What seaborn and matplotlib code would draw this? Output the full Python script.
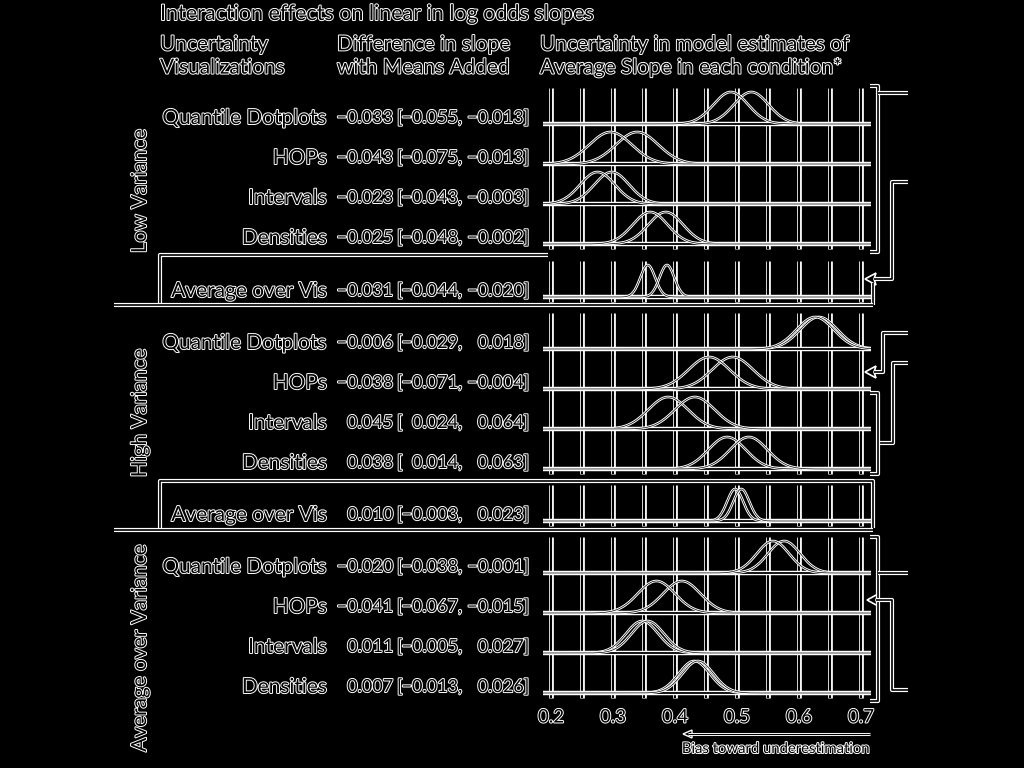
import numpy as np
import pandas as pd
import matplotlib
matplotlib.use("Agg")
import matplotlib.pyplot as plt
import matplotlib.patheffects as pe
from matplotlib.lines import Line2D
from matplotlib.patches import Polygon
from matplotlib.transforms import blended_transform_factory
import seaborn as sns

# row labels
row_labels = ["Quantile Dotplots", "HOPs", "Intervals", "Densities", "Average over Vis"]
block_names = ["Low Variance", "High Variance", "Average over Variance"]

# posterior mean / sd of average slope
low_no_means = [0.523, 0.339, 0.298, 0.385, 0.387]
low_with_means = [0.490, 0.296, 0.275, 0.360, 0.356]
low_sd = [0.028, 0.034, 0.028, 0.028, 0.012]
high_no_means = [0.632, 0.493, 0.389, 0.484, 0.497]
high_with_means = [0.626, 0.455, 0.432, 0.519, 0.507]
high_sd = [0.030, 0.033, 0.032, 0.030, 0.013]
avg_no_means = [0.576, 0.411, 0.347, 0.431]
avg_with_means = [0.558, 0.370, 0.356, 0.437]
avg_sd = [0.026, 0.030, 0.026, 0.025]

# interaction estimate [95% interval]
low_est = ["−0.033", "−0.043", "−0.023", "−0.025", "−0.031"]
low_lo = ["−0.055", "−0.075", "−0.043", "−0.048", "−0.044"]
low_hi = ["−0.013", "−0.013", "−0.003", "−0.002", "−0.020"]
high_est = ["−0.006", "−0.038", "0.045", "0.038", "0.010"]
high_lo = ["−0.029", "−0.071", "0.024", "0.014", "−0.003"]
high_hi = ["0.018", "−0.004", "0.064", "0.063", "0.023"]
avg_est = ["−0.020", "−0.041", "0.011", "0.007"]
avg_lo = ["−0.038", "−0.067", "−0.005", "−0.013"]
avg_hi = ["−0.001", "−0.015", "0.027", "0.026"]

x_ticks = [0.2, 0.3, 0.4, 0.5, 0.6, 0.7]
grid_x = [0.2, 0.25, 0.3, 0.35, 0.4, 0.45, 0.5, 0.55, 0.6, 0.65, 0.7]

sns.set_theme(style="dark")
plt.rcParams['font.family'] = ['Lato', 'DejaVu Sans']

W, H = 1024, 768
fig = plt.figure(figsize=(10.24, 7.68), dpi=100, facecolor='black')

def fx(x):
    return x / W

def fy(y):
    return 1 - y / H

txt_fx = [pe.withStroke(linewidth=1.4, foreground='white')]

def outl(w):
    return [pe.Stroke(linewidth=w, foreground='white'), pe.Normal()]

def txt(x, y, s, size=15, **kw):
    fig.text(fx(x), fy(y), s, fontsize=size, color='black', path_effects=txt_fx, **kw)

def fline(xs, ys, w=1.2, sw=3.0):
    fig.add_artist(Line2D([fx(v) for v in xs], [fy(v) for v in ys], transform=fig.transFigure,
                          color='black', lw=w, path_effects=outl(sw), solid_capstyle='butt'))

def arrow_head(x, y):
    pts = [(fx(x), fy(y)), (fx(x + 11), fy(y - 6)), (fx(x + 9), fy(y)), (fx(x + 11), fy(y + 6))]
    fig.add_artist(Polygon(pts, closed=True, transform=fig.transFigure,
                           facecolor='black', edgecolor='white', lw=1.2))

X0, X1 = 543, 871
XL = (0.2 - 8 / 620, 0.7 + 10 / 620)
last_ax = None

def draw_row(base, mu_a, mu_b, sd):
    global last_ax
    ax = fig.add_axes([fx(X0), fy(base + 6), fx(X1) - fx(X0), 44 / H])
    ax.set_xlim(*XL)
    ax.set_ylim(-6 / 32, 38 / 32)
    ax.set_axis_off()
    for g in grid_x:
        ax.plot([g, g], [-5 / 32, 36 / 32], color='black', lw=1.5, path_effects=outl(3.4), zorder=1,
                solid_capstyle='butt')
    ax.plot(XL, [0, 0], color='black', lw=1.3, path_effects=outl(3.2), zorder=2,
            solid_capstyle='butt')
    xs = np.linspace(XL[0], XL[1], 400)
    for mu in (mu_a, mu_b):
        ys = np.exp(-0.5 * ((xs - mu) / sd) ** 2)
        sns.lineplot(x=xs, y=ys, ax=ax, color='black', lw=0.5, path_effects=outl(1.9), zorder=3)
    last_ax = ax

def row_text(base, label, est, lo, hi):
    y = base - 6
    txt(327, y, label, ha='right', va='center')
    txt(393, y, est, size=13, ha='right', va='center')
    txt(397, y, "[", size=13, ha='left', va='center')
    txt(462, y, lo + ",", size=13, ha='right', va='center')
    txt(529, y, hi + "]", size=13, ha='right', va='center')

blocks = [
    ([124, 164, 204, 244, 297], low_no_means, low_with_means, low_sd, low_est, low_lo, low_hi),
    ([349, 389, 429, 469, 521], high_no_means, high_with_means, high_sd, high_est, high_lo, high_hi),
    ([573, 613, 653, 693], avg_no_means, avg_with_means, avg_sd, avg_est, avg_lo, avg_hi),
]
for bases, m_no, m_with, sds, est, lo, hi in blocks:
    for i, b in enumerate(bases):
        draw_row(b, m_no[i], m_with[i], sds[i])
        row_text(b, row_labels[i], est[i], lo[i], hi[i])

# headers
txt(160, 14, "Interaction effects on linear in log odds slopes", size=15.5, ha='left', va='center')
txt(160, 56, "Uncertainty\nVisualizations", ha='left', va='center', linespacing=1.2)
txt(337, 56, "Difference in slope\nwith Means Added", ha='left', va='center', linespacing=1.2)
txt(540, 56, "Uncertainty in model estimates of\nAverage Slope in each condition*", ha='left', va='center',
    linespacing=1.2)

# block labels
txt(140, 191, block_names[0], ha='center', va='center', rotation=90)
txt(140, 413, block_names[1], ha='center', va='center', rotation=90)
txt(140, 648, block_names[2], ha='center', va='center', rotation=90)

# boxes around the "Average over Vis" rows and block separators
fline([160, 160, 548], [303, 255, 255], w=1.2, sw=3.0)
fline([873, 873], [283, 305], w=1.2, sw=3.0)
fline([114, 873], [305, 305], w=1.2, sw=3.0)
fline([160, 160, 873, 873], [528, 481, 481, 528], w=1.2, sw=3.0)
fline([114, 873], [530, 530], w=1.2, sw=3.0)

# model structure brackets on the right
fline([870, 878, 878, 870], [86, 86, 252, 252])
fline([878, 908], [93, 93])
fline([908, 892, 892, 874], [182, 182, 279, 279])
arrow_head(865, 279)

fline([908, 883, 883, 874], [333, 333, 372, 372])
arrow_head(865, 372)
fline([908, 893, 893, 878], [363, 363, 443, 443])
fline([870, 878, 878, 870], [393, 393, 474, 474])

fline([870, 878, 878, 870], [537, 537, 701, 701])
fline([878, 908], [573, 573])
fline([908, 892, 892, 876], [690, 690, 600, 600])
arrow_head(867, 600)

# x tick labels under the last row
tr = blended_transform_factory(last_ax.transData, fig.transFigure)
for t in x_ticks:
    last_ax.text(t, fy(717), f"{t:.1f}", transform=tr, ha='center', va='center', fontsize=13.5,
                 color='black', path_effects=txt_fx)

fline([688, 870], [734, 734], w=0.8, sw=2.2)
pts = [(fx(683), fy(734)), (fx(692), fy(730)), (fx(692), fy(738))]
fig.add_artist(Polygon(pts, closed=True, transform=fig.transFigure, facecolor='black',
                       edgecolor='white', lw=1.0))
txt(776, 749, "Bias toward underestimation", size=10.7, ha='center', va='center')

fig.savefig("out.png", dpi=100, facecolor='black')
